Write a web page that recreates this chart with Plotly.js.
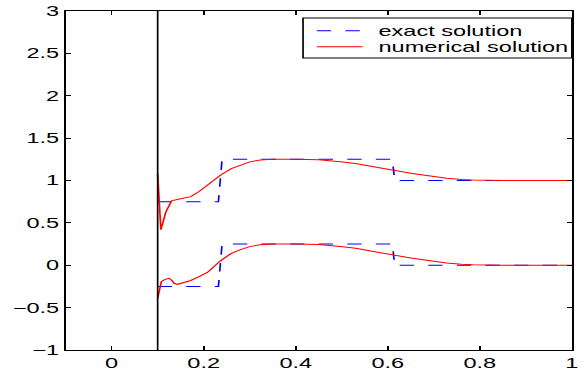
<!DOCTYPE html>
<html>
<head>
<meta charset="utf-8">
<script src="https://cdn.plot.ly/plotly-3.0.1.min.js"></script>
<style>
  html, body { margin: 0; padding: 0; background: #fff; overflow: hidden; }
  /* the figure is laid out narrow and widened horizontally, like a stretched print */
  #chart { width: 349px; height: 371px; transform: scaleX(1.682); transform-origin: 0 0; }
</style>
</head>
<body>
<div id="chart"></div>
<script>
// exact (piecewise constant) solutions, lower and upper profile
const exactX = [0.1, 0.232, 0.24, 0.61, 0.615, 1.0];
const exactLow = [-0.25, -0.25, 0.25, 0.25, 0.0, 0.0];
const exactHigh = [0.75, 0.75, 1.25, 1.25, 1.0, 1.0];

// numerical solution, upper profile
const numHighX = [0.1, 0.107, 0.118, 0.13, 0.15, 0.172, 0.19, 0.208, 0.237, 0.26, 0.28, 0.30, 0.323, 0.35, 0.40, 0.45, 0.497, 0.53, 0.56, 0.59, 0.612, 0.65, 0.677, 0.70, 0.728, 0.76, 0.785, 0.85, 0.9, 1.0];
const numHighY = [1.077, 0.42, 0.63, 0.76, 0.785, 0.81, 0.87, 0.947, 1.065, 1.14, 1.183, 1.22, 1.242, 1.25, 1.252, 1.245, 1.222, 1.2, 1.171, 1.14, 1.116, 1.085, 1.065, 1.045, 1.026, 1.012, 1.006, 1.001, 1.0, 1.0];

// numerical solution, lower profile
const numLowX = [0.1, 0.104, 0.108, 0.115, 0.125, 0.131, 0.136, 0.143, 0.155, 0.172, 0.19, 0.208, 0.237, 0.26, 0.28, 0.30, 0.323, 0.35, 0.40, 0.45, 0.497, 0.53, 0.56, 0.59, 0.612, 0.65, 0.677, 0.70, 0.728, 0.76, 0.785, 0.85, 0.9, 1.0];
const numLowY = [-0.39, -0.28, -0.194, -0.17, -0.154, -0.18, -0.213, -0.225, -0.21, -0.18, -0.135, -0.085, 0.055, 0.14, 0.185, 0.22, 0.242, 0.25, 0.252, 0.245, 0.222, 0.2, 0.171, 0.14, 0.116, 0.085, 0.065, 0.045, 0.026, 0.012, 0.006, 0.001, 0.0, 0.0];

// inflow boundary position
const boundaryX = 0.1;

// legend entries
const legendLabels = ['exact solution', 'numerical solution'];

// axis ticks
const xTicks = [0, 0.2, 0.4, 0.6, 0.8, 1];
const xTickText = ['0', '0.2', '0.4', '0.6', '0.8', '1'];
const yTicks = [-1, -0.5, 0, 0.5, 1, 1.5, 2, 2.5, 3];
const yTickText = ['\u22121', '\u22120.5', '0', '0.5', '1', '1.5', '2', '2.5', '3'];

const FONT = '"Liberation Sans", Arial, sans-serif';
const blueDash = { color: '#0000ff', width: 1, dash: '8.5px,8.5px' };
const redLine = { color: '#ff0000', width: 1 };

const traces = [
  { x: exactX, y: exactHigh, mode: 'lines', line: blueDash, name: legendLabels[0] },
  { x: exactX, y: exactLow, mode: 'lines', line: blueDash, name: legendLabels[0] },
  { x: numHighX, y: numHighY, mode: 'lines', line: redLine, name: legendLabels[1] },
  { x: numLowX, y: numLowY, mode: 'lines', line: redLine, name: legendLabels[1] }
];

const axisCommon = {
  showline: true, linecolor: '#000', linewidth: 1, mirror: 'ticks',
  ticks: 'inside', tickcolor: '#000', tickwidth: 1,
  showgrid: false, zeroline: false, tickmode: 'array',
  tickfont: { family: FONT, size: 14, color: '#000' }
};

// boxed key in the upper right corner, built from shapes and text
const keyBox = { x0: 0.469, x1: 1.0, y0: 0.8614, y1: 0.9794 };
const keyRows = [0.9419, 0.8947];
const keySample = { x0: 0.4962, x1: 0.5866 };
const keyTextX = 0.612;
const keyStyles = [blueDash, redLine];

const shapes = [
  { type: 'line', xref: 'x', yref: 'paper', x0: boundaryX, x1: boundaryX, y0: 0, y1: 1, line: { color: '#000', width: 1 } },
  { type: 'rect', xref: 'paper', yref: 'paper', x0: keyBox.x0, x1: keyBox.x1, y0: keyBox.y0, y1: keyBox.y1,
    line: { color: '#000', width: 1 }, fillcolor: '#fff' }
];
const annotations = [];
legendLabels.forEach((label, i) => {
  shapes.push({ type: 'line', xref: 'paper', yref: 'paper', x0: keySample.x0, x1: keySample.x1,
    y0: keyRows[i], y1: keyRows[i], line: keyStyles[i] });
  annotations.push({ xref: 'paper', yref: 'paper', x: keyTextX, y: keyRows[i], xanchor: 'left', yanchor: 'middle',
    text: label, showarrow: false, font: { family: FONT, size: 14, color: '#000' } });
});

const layout = {
  width: 349, height: 371, autosize: false,
  margin: { l: 38.5, r: 8.6, t: 11, b: 21, pad: 0 },
  paper_bgcolor: '#fff', plot_bgcolor: '#fff',
  font: { family: FONT, size: 14, color: '#000' },
  xaxis: Object.assign({}, axisCommon, { range: [-0.1, 1], tickvals: xTicks, ticktext: xTickText, ticklen: 4 }),
  yaxis: Object.assign({}, axisCommon, { range: [-1, 3], tickvals: yTicks, ticktext: yTickText, ticklen: 3 }),
  shapes: shapes,
  annotations: annotations,
  showlegend: false
};

Plotly.newPlot('chart', traces, layout, { staticPlot: true, displayModeBar: false });
</script>
</body>
</html>
